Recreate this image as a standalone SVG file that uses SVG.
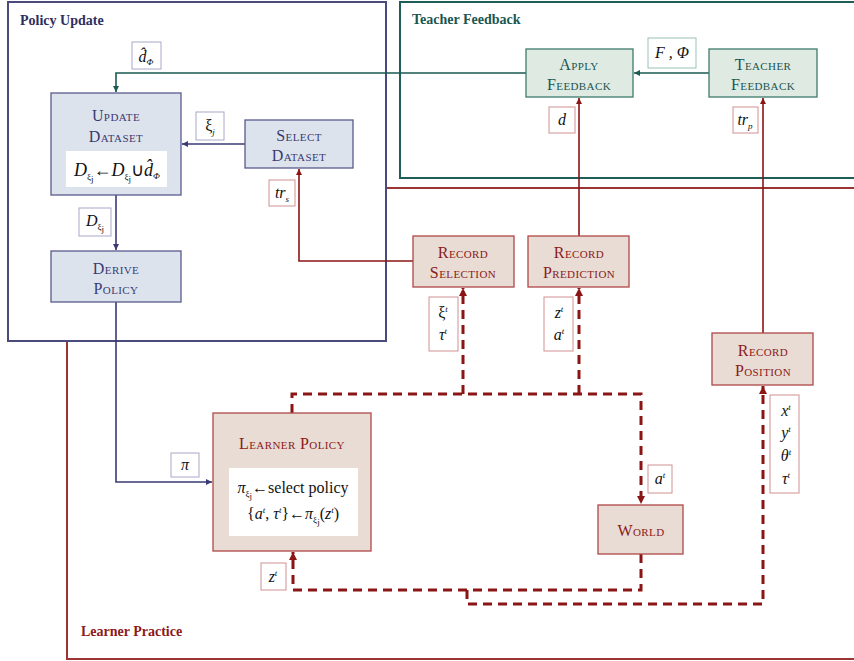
<svg xmlns="http://www.w3.org/2000/svg" width="854" height="661" viewBox="0 0 854 661">
<style>
text{font-family:"Liberation Serif","Times New Roman",serif;}
.ttl{font-weight:bold;font-size:14px;}
.sc{font-variant:small-caps;font-size:16px;text-anchor:middle;letter-spacing:0.4px;}
.m{font-style:italic;font-size:16px;fill:#111;}
.mu{font-size:16px;fill:#111;}
.sub{font-size:9px;}
.big .m,.big .mu{font-size:18px;}
.nb{fill:#dde3ec;stroke:#5a5a8c;stroke-width:1.3;}
.ng{fill:#dfeae2;stroke:#3e7a6c;stroke-width:1.3;}
.nr{fill:#e8dcd4;stroke:#b04848;stroke-width:1.3;}
.lb{fill:#fff;stroke:#a8a8c8;stroke-width:1;}
.lg{fill:#fff;stroke:#98c0b8;stroke-width:1;}
.lr{fill:#fff;stroke:#d09090;stroke-width:1;}
.cb{fill:none;stroke:#3a3a74;stroke-width:1.6;}
.cg{fill:none;stroke:#1a5a52;stroke-width:1.6;}
.cr{fill:none;stroke:#8b1414;stroke-width:1.6;}
.cd{fill:none;stroke:#8b1414;stroke-width:3;stroke-dasharray:9 6;}
</style>
<defs>
<marker id="ab" viewBox="0 0 10 10" refX="10" refY="5" markerWidth="6" markerHeight="6" markerUnits="userSpaceOnUse" orient="auto"><path d="M0,0L10,5L0,10z" fill="#3a3a74"/></marker>
<marker id="ag" viewBox="0 0 10 10" refX="10" refY="5" markerWidth="6" markerHeight="6" markerUnits="userSpaceOnUse" orient="auto"><path d="M0,0L10,5L0,10z" fill="#1a5a52"/></marker>
<marker id="ar" viewBox="0 0 10 10" refX="10" refY="5" markerWidth="6" markerHeight="6" markerUnits="userSpaceOnUse" orient="auto"><path d="M0,0L10,5L0,10z" fill="#8b1414"/></marker>
<marker id="ard" viewBox="0 0 10 10" refX="10" refY="5" markerWidth="8" markerHeight="8" markerUnits="userSpaceOnUse" orient="auto"><path d="M0,0L10,5L0,10z" fill="#8b1414"/></marker>
</defs>

<g id="regions">
<rect id="learner-practice" x="67" y="188" width="800" height="471" fill="#fff" stroke="#9c3434" stroke-width="2"/>
<rect id="policy-update" x="8" y="2" width="378" height="339" fill="#fff" stroke="#4a4a7c" stroke-width="2"/>
<rect id="teacher-feedback" x="400" y="2" width="470" height="176" fill="#fff" stroke="#1e5e58" stroke-width="2"/>
<text class="ttl" x="20" y="25" fill="#2e2e5e">Policy Update</text>
<text class="ttl" x="412" y="24" fill="#1a5650">Teacher Feedback</text>
<text class="ttl" x="81" y="636" fill="#8b1a1a">Learner Practice</text>
</g>

<g id="connectors">
<path class="cg" d="M526,73H116V92" marker-end="url(#ag)"/>
<path class="cg" d="M709,73H634" marker-end="url(#ag)"/>
<path class="cb" d="M245,144H182" marker-end="url(#ab)"/>
<path class="cb" d="M116,195V250" marker-end="url(#ab)"/>
<path class="cb" d="M116,302V482H212" marker-end="url(#ab)"/>
<path class="cr" d="M413,261H299V169" marker-end="url(#ar)"/>
<path class="cr" d="M579,236V98" marker-end="url(#ar)"/>
<path class="cr" d="M763,333V98" marker-end="url(#ar)"/>
<path class="cd" d="M292,413V394H641V504" marker-end="url(#ard)"/>
<path class="cd" d="M463,394V288" marker-end="url(#ard)"/>
<path class="cd" d="M579,394V288" marker-end="url(#ard)"/>
<path class="cd" d="M641,554V590H293V552" marker-end="url(#ard)"/>
<path class="cd" d="M467,590V604H763V386" marker-end="url(#ard)"/>
</g>

<g id="update-dataset">
<rect class="nb" x="51" y="93" width="130" height="102"/>
<text class="sc" x="116" y="121" fill="#3a3a72">Update</text>
<text class="sc" x="116" y="142" fill="#3a3a72">Dataset</text>
<rect x="66" y="151" width="101" height="36" fill="#fff"/>
<text class="big" x="117" y="176" text-anchor="middle"><tspan class="m">D</tspan><tspan class="sub" dy="4" fill="#111">ξ</tspan><tspan class="sub" font-size="6" dy="2" fill="#111">j</tspan><tspan class="mu" dy="-6">←</tspan><tspan class="m">D</tspan><tspan class="sub" dy="4" fill="#111">ξ</tspan><tspan class="sub" font-size="6" dy="2" fill="#111">j</tspan><tspan class="mu" dy="-6">∪</tspan><tspan class="m">d̂</tspan><tspan class="sub" font-style="italic" dy="3" fill="#111">Φ</tspan></text>
</g>

<g id="select-dataset">
<rect class="nb" x="245" y="120" width="108" height="48"/>
<text class="sc" x="299" y="141" fill="#3a3a72">Select</text>
<text class="sc" x="299" y="161" fill="#3a3a72">Dataset</text>
</g>

<g id="derive-policy">
<rect class="nb" x="51" y="251" width="130" height="51"/>
<text class="sc" x="116" y="274" fill="#3a3a72">Derive</text>
<text class="sc" x="116" y="294" fill="#3a3a72">Policy</text>
</g>

<g id="apply-feedback">
<rect class="ng" x="526" y="49" width="107" height="48"/>
<text class="sc" x="579" y="70" fill="#1a5650">Apply</text>
<text class="sc" x="579" y="90" fill="#1a5650">Feedback</text>
</g>

<g id="teacher-feedback-node">
<rect class="ng" x="709" y="49" width="108" height="48"/>
<text class="sc" x="763" y="70" fill="#1a5650">Teacher</text>
<text class="sc" x="763" y="90" fill="#1a5650">Feedback</text>
</g>

<g id="record-selection">
<rect class="nr" x="413" y="236" width="101" height="51"/>
<text class="sc" x="463" y="258" fill="#8b1a1a">Record</text>
<text class="sc" x="463" y="278" fill="#8b1a1a">Selection</text>
</g>

<g id="record-prediction">
<rect class="nr" x="528" y="236" width="101" height="51"/>
<text class="sc" x="579" y="258" fill="#8b1a1a">Record</text>
<text class="sc" x="579" y="278" fill="#8b1a1a">Prediction</text>
</g>

<g id="record-position">
<rect class="nr" x="712" y="333" width="101" height="52"/>
<text class="sc" x="763" y="356" fill="#8b1a1a">Record</text>
<text class="sc" x="763" y="376" fill="#8b1a1a">Position</text>
</g>

<g id="learner-policy">
<rect class="nr" x="213" y="413" width="158" height="138"/>
<text class="sc" x="292" y="449" fill="#8b1a1a">Learner Policy</text>
<rect x="229" y="468" width="129" height="68" fill="#fff"/>
<text x="293" y="493" text-anchor="middle"><tspan class="m">π</tspan><tspan class="sub" dy="4" fill="#111">ξ</tspan><tspan class="sub" font-size="6" dy="2" fill="#111">j</tspan><tspan class="mu" dy="-6">←select policy</tspan></text>
<text x="293" y="519" text-anchor="middle"><tspan class="mu">{</tspan><tspan class="m">a</tspan><tspan class="sub" font-style="italic" dy="-6" fill="#111">t</tspan><tspan class="mu" dy="6">, </tspan><tspan class="m">τ</tspan><tspan class="sub" font-style="italic" dy="-6" fill="#111">t</tspan><tspan class="mu" dy="6">}←</tspan><tspan class="m">π</tspan><tspan class="sub" dy="4" fill="#111">ξ</tspan><tspan class="sub" font-size="6" dy="2" fill="#111">j</tspan><tspan class="mu" dy="-6">(</tspan><tspan class="m">z</tspan><tspan class="sub" font-style="italic" dy="-6" fill="#111">t</tspan><tspan class="mu" dy="6">)</tspan></text>
</g>

<g id="world">
<rect class="nr" x="598" y="505" width="85" height="49"/>
<text class="sc" x="641" y="536" fill="#8b1a1a">World</text>
</g>

<g id="labels">
<g id="lbl-dhat"><rect class="lb" x="132" y="42" width="29" height="27"/><text x="146" y="62" text-anchor="middle"><tspan class="m">d̂</tspan><tspan class="sub" font-style="italic" dy="3" fill="#111">Φ</tspan></text></g>
<g id="lbl-xij"><rect class="lb" x="196" y="112" width="28" height="28"/><text x="210" y="131" text-anchor="middle"><tspan class="mu">ξ</tspan><tspan class="sub" font-style="italic" dy="4" fill="#111">j</tspan></text></g>
<g id="lbl-dxij"><rect class="lb" x="79" y="208" width="32" height="28"/><text x="95" y="226" text-anchor="middle"><tspan class="m">D</tspan><tspan class="sub" dy="4" fill="#111">ξ</tspan><tspan class="sub" font-size="6" dy="2" fill="#111">j</tspan></text></g>
<g id="lbl-trs"><rect class="lr" x="269" y="180" width="26" height="26"/><text x="282" y="198" text-anchor="middle"><tspan class="m">tr</tspan><tspan class="sub" font-style="italic" dy="4" fill="#111">s</tspan></text></g>
<g id="lbl-fphi"><rect class="lg" x="648" y="38" width="48" height="30"/><text x="672" y="58" text-anchor="middle" class="m">F , Φ</text></g>
<g id="lbl-d"><rect class="lr" x="549" y="107" width="26" height="26"/><text x="562" y="125" text-anchor="middle" class="m">d</text></g>
<g id="lbl-trp"><rect class="lr" x="733" y="107" width="25" height="26"/><text x="745" y="125" text-anchor="middle"><tspan class="m">tr</tspan><tspan class="sub" font-style="italic" dy="4" fill="#111">p</tspan></text></g>
<g id="lbl-xitau"><rect class="lr" x="429" y="297" width="29" height="54"/><text x="443" y="318" text-anchor="middle"><tspan class="mu">ξ</tspan><tspan class="sub" font-style="italic" dy="-6" fill="#111">t</tspan></text><text x="443" y="340" text-anchor="middle"><tspan class="m">τ</tspan><tspan class="sub" font-style="italic" dy="-6" fill="#111">t</tspan></text></g>
<g id="lbl-za"><rect class="lr" x="544" y="297" width="29" height="54"/><text x="559" y="318" text-anchor="middle"><tspan class="m">z</tspan><tspan class="sub" font-style="italic" dy="-6" fill="#111">t</tspan></text><text x="559" y="340" text-anchor="middle"><tspan class="m">a</tspan><tspan class="sub" font-style="italic" dy="-6" fill="#111">t</tspan></text></g>
<g id="lbl-pi"><rect class="lb" x="171" y="453" width="28" height="24"/><text x="185" y="470" text-anchor="middle" class="m">π</text></g>
<g id="lbl-at"><rect class="lr" x="648" y="465" width="24" height="28"/><text x="660" y="484" text-anchor="middle"><tspan class="m">a</tspan><tspan class="sub" font-style="italic" dy="-6" fill="#111">t</tspan></text></g>
<g id="lbl-xyt"><rect class="lr" x="770" y="395" width="29" height="98"/>
<text x="786" y="416" text-anchor="middle"><tspan class="m">x</tspan><tspan class="sub" font-style="italic" dy="-6" fill="#111">t</tspan></text>
<text x="786" y="438" text-anchor="middle"><tspan class="m">y</tspan><tspan class="sub" font-style="italic" dy="-6" fill="#111">t</tspan></text>
<text x="786" y="461" text-anchor="middle"><tspan class="m">θ</tspan><tspan class="sub" font-style="italic" dy="-6" fill="#111">t</tspan></text>
<text x="786" y="484" text-anchor="middle"><tspan class="m">τ</tspan><tspan class="sub" font-style="italic" dy="-6" fill="#111">t</tspan></text></g>
<g id="lbl-zt"><rect class="lr" x="261" y="563" width="25" height="27"/><text x="273" y="582" text-anchor="middle"><tspan class="m">z</tspan><tspan class="sub" font-style="italic" dy="-6" fill="#111">t</tspan></text></g>
</g>
</svg>
